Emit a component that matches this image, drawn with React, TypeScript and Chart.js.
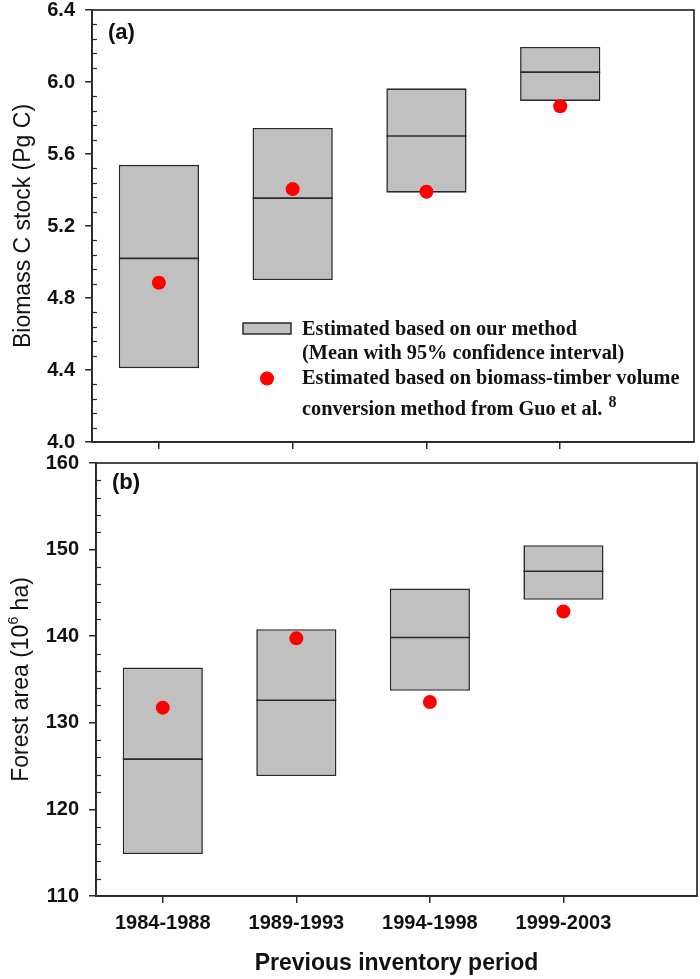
import React, { useEffect, useRef } from 'react';
import { Chart, registerables } from 'chart.js';

Chart.register(...registerables);

// ---------------- data ----------------
const categories = ['1984-1988', '1989-1993', '1994-1998', '1999-2003'];

const biomassLow = [4.41, 4.9, 5.385, 5.895];
const biomassHigh = [5.54, 5.745, 5.965, 6.195];
const biomassMean = [5.02, 5.355, 5.7, 6.055];
const biomassGuo = [4.885, 5.405, 5.39, 5.865];
const biomassTicks = [4.0, 4.4, 4.8, 5.2, 5.6, 6.0, 6.4];

const areaLow = [114.85, 123.85, 133.7, 144.2];
const areaHigh = [136.4, 140.8, 145.5, 150.5];
const areaMean = [125.8, 132.6, 139.85, 147.5];
const areaGuo = [131.75, 139.75, 132.4, 142.85];
const areaTicks = [110, 120, 130, 140, 150, 160];

const legendBoxLabel = ['Estimated based on our method', '(Mean with 95% confidence interval)'];
const legendDotLabel = ['Estimated based on biomass-timber volume', 'conversion method from Guo et al.'];
const legendRef = '8';
const xTitle = 'Previous inventory period';
const biomassTitle = 'Biomass C stock (Pg C)';
const areaTitleParts = ['Forest area (10', '6', ' ha)'];

// ---------------- styles ----------------
const SANS = '"Liberation Sans", Arial, sans-serif';
const SERIF = '"Liberation Serif", "Times New Roman", serif';
const INK = '#2a2a2a';
const TEXT = '#111111';
const BOX_FILL = '#c0c0c0';
const DOT = '#ff0000';

const framePlugin = {
  id: 'frame',
  afterDatasetsDraw(chart: any) {
    const { ctx, chartArea: a } = chart;
    ctx.save();
    ctx.strokeStyle = INK;
    ctx.lineWidth = 1.7;
    ctx.strokeRect(a.left, a.top, a.right - a.left, a.bottom - a.top);
    ctx.restore();
  },
};

const minorTicksPlugin = {
  id: 'minorTicks',
  afterDatasetsDraw(chart: any) {
    const { ctx, chartArea: a } = chart;
    const s = chart.scales.y;
    const vals = s.ticks.map((t: any) => t.value);
    const divisions = 5;
    ctx.save();
    ctx.strokeStyle = INK;
    ctx.lineWidth = 1.2;
    for (let i = 0; i < vals.length - 1; i++) {
      for (let k = 1; k < divisions; k++) {
        const v = vals[i] + ((vals[i + 1] - vals[i]) * k) / divisions;
        const y = Math.round(s.getPixelForValue(v)) + 0.5;
        ctx.beginPath();
        ctx.moveTo(a.left, y);
        ctx.lineTo(a.left + 5, y);
        ctx.stroke();
      }
    }
    ctx.restore();
  },
};

function drawRotated(ctx: any, parts: { text: string; font: string; rise: number }[], baseX: number, centerY: number) {
  ctx.save();
  ctx.fillStyle = TEXT;
  ctx.textBaseline = 'alphabetic';
  ctx.textAlign = 'left';
  let total = 0;
  const widths = parts.map((p) => {
    ctx.font = p.font;
    const w = ctx.measureText(p.text).width;
    total += w;
    return w;
  });
  ctx.translate(baseX, centerY);
  ctx.rotate(-Math.PI / 2);
  let x = -total / 2;
  parts.forEach((p, i) => {
    ctx.font = p.font;
    ctx.fillText(p.text, x, -p.rise);
    x += widths[i];
  });
  ctx.restore();
}

const topTextPlugin = {
  id: 'topText',
  afterDraw(chart: any) {
    const { ctx, chartArea: a } = chart;
    // panel label
    ctx.save();
    ctx.fillStyle = TEXT;
    ctx.font = `bold 22px ${SANS}`;
    ctx.textBaseline = 'middle';
    ctx.textAlign = 'left';
    ctx.fillText('(a)', a.left + 16, a.top + 23);
    ctx.restore();
    // y title
    drawRotated(ctx, [{ text: biomassTitle, font: `23px ${SANS}`, rise: 0 }], 30, (a.top + a.bottom) / 2);
    // legend
    ctx.save();
    const lx = a.left + 151;
    const ly = a.top + 313;
    ctx.fillStyle = BOX_FILL;
    ctx.fillRect(lx, ly, 48, 11);
    ctx.strokeStyle = INK;
    ctx.lineWidth = 1.5;
    ctx.strokeRect(lx, ly, 48, 11);
    ctx.beginPath();
    ctx.fillStyle = DOT;
    ctx.arc(lx + 24, ly + 55.5, 7, 0, Math.PI * 2);
    ctx.fill();
    ctx.fillStyle = TEXT;
    ctx.font = `bold 20.3px ${SERIF}`;
    ctx.textAlign = 'left';
    ctx.textBaseline = 'alphabetic';
    const tx = lx + 59;
    ctx.fillText(legendBoxLabel[0], tx, ly + 12);
    ctx.fillText(legendBoxLabel[1], tx, ly + 36);
    ctx.fillText(legendDotLabel[0], tx, ly + 61);
    ctx.fillText(legendDotLabel[1], tx, ly + 92);
    const w = ctx.measureText(legendDotLabel[1]).width;
    ctx.font = `bold 16px ${SERIF}`;
    ctx.fillText(legendRef, tx + w + 6, ly + 84);
    ctx.restore();
  },
};

const bottomTextPlugin = {
  id: 'bottomText',
  afterDraw(chart: any) {
    const { ctx, chartArea: a } = chart;
    ctx.save();
    ctx.fillStyle = TEXT;
    ctx.font = `bold 22px ${SANS}`;
    ctx.textBaseline = 'middle';
    ctx.textAlign = 'left';
    ctx.fillText('(b)', a.left + 16, a.top + 20);
    ctx.restore();
    drawRotated(
      ctx,
      [
        { text: areaTitleParts[0], font: `23px ${SANS}`, rise: 0 },
        { text: areaTitleParts[1], font: `14px ${SANS}`, rise: 10 },
        { text: areaTitleParts[2], font: `23px ${SANS}`, rise: 0 },
      ],
      28,
      (a.top + a.bottom) / 2
    );
  },
};

function buildConfig(p: {
  low: number[];
  high: number[];
  mean: number[];
  guo: number[];
  ticks: number[];
  decimals: number;
  yWidth: number;
  xHeight: number;
  padding: any;
  showXLabels: boolean;
  textPlugin: any;
}) {
  const tickFont = { family: SANS, size: 20, weight: 'bold' as const, lineHeight: 1.2 };
  return {
    type: 'bar',
    data: {
      datasets: [
        {
          type: 'scatter',
          label: 'Guo et al.',
          data: categories.map((_, i) => ({ x: i, y: p.guo[i] })),
          pointRadius: 7,
          pointBackgroundColor: DOT,
          pointBorderColor: DOT,
          pointBorderWidth: 0,
          order: 0,
        },
        {
          type: 'scatter',
          label: 'Mean',
          data: categories.map((_, i) => ({ x: i, y: p.mean[i] })),
          pointStyle: 'line',
          pointRadius: 40,
          pointBorderColor: INK,
          pointBackgroundColor: INK,
          pointBorderWidth: 1.6,
          order: 1,
        },
        {
          type: 'bar',
          label: '95% CI',
          data: categories.map((_, i) => ({ x: i, y: [p.low[i], p.high[i]] })),
          backgroundColor: BOX_FILL,
          borderColor: INK,
          borderWidth: 1.6,
          borderSkipped: false,
          barPercentage: 0.6,
          categoryPercentage: 1,
          order: 2,
        },
      ],
    },
    options: {
      animation: false,
      responsive: false,
      events: [],
      layout: { padding: p.padding, autoPadding: false },
      plugins: {
        legend: { display: false },
        tooltip: { enabled: false },
        title: { display: false },
      },
      scales: {
        x: {
          type: 'linear',
          min: -0.5,
          max: 4,
          offset: false,
          grid: { offset: false, drawOnChartArea: false, drawTicks: true, tickLength: 7, color: INK, lineWidth: 1.5 },
          border: { display: true, color: INK, width: 1.7 },
          ticks: {
            autoSkip: false,
            maxRotation: 0,
            minRotation: 0,
            padding: 8,
            color: TEXT,
            font: tickFont,
            callback: (v: any) => (p.showXLabels ? categories[Math.round(Number(v))] ?? '' : ''),
          },
          title: p.showXLabels
            ? {
                display: true,
                text: xTitle,
                color: TEXT,
                font: { family: SANS, size: 23, weight: 'bold', lineHeight: 1.2 },
                padding: { top: 0, bottom: 2 },
              }
            : { display: false },
          afterBuildTicks: (s: any) => {
            s.ticks = categories.map((_, i) => ({ value: i }));
          },
          afterFit: (s: any) => {
            s.height = p.xHeight;
            s.paddingLeft = 0;
            s.paddingRight = 0;
          },
        },
        y: {
          type: 'linear',
          min: p.ticks[0],
          max: p.ticks[p.ticks.length - 1],
          grid: { drawOnChartArea: false, drawTicks: true, tickLength: 7, color: INK, lineWidth: 1.5 },
          border: { display: true, color: INK, width: 1.7 },
          ticks: {
            padding: 10,
            color: TEXT,
            font: tickFont,
            callback: (v: any) => Number(v).toFixed(p.decimals),
          },
          afterBuildTicks: (s: any) => {
            s.ticks = p.ticks.map((v) => ({ value: v }));
          },
          afterFit: (s: any) => {
            s.width = p.yWidth;
            s.paddingTop = 0;
            s.paddingBottom = 0;
          },
        },
      },
    },
    plugins: [framePlugin, minorTicksPlugin, p.textPlugin],
  };
}

function Panel({ config, top, height }: { config: any; top: number; height: number }) {
  const ref = useRef<HTMLCanvasElement | null>(null);
  useEffect(() => {
    if (!ref.current) return;
    const chart = new Chart(ref.current, config);
    return () => chart.destroy();
  }, [config]);
  return (
    <canvas
      ref={ref}
      width={700}
      height={height}
      style={{ position: 'absolute', left: 0, top, width: 700, height, display: 'block' }}
    />
  );
}

const topConfig = buildConfig({
  low: biomassLow,
  high: biomassHigh,
  mean: biomassMean,
  guo: biomassGuo,
  ticks: biomassTicks,
  decimals: 1,
  yWidth: 92,
  xHeight: 13,
  padding: { left: 0, top: 10, right: 6, bottom: 0 },
  showXLabels: false,
  textPlugin: topTextPlugin,
});

const bottomConfig = buildConfig({
  low: areaLow,
  high: areaHigh,
  mean: areaMean,
  guo: areaGuo,
  ticks: areaTicks,
  decimals: 0,
  yWidth: 96,
  xHeight: 83,
  padding: { left: 0, top: 8, right: 3, bottom: 0 },
  showXLabels: true,
  textPlugin: bottomTextPlugin,
});

export default function App() {
  return (
    <div style={{ position: 'absolute', left: 0, top: 0, width: 700, height: 979, background: '#fff' }}>
      <Panel config={topConfig} top={0} height={455} />
      <Panel config={bottomConfig} top={455} height={524} />
    </div>
  );
}
